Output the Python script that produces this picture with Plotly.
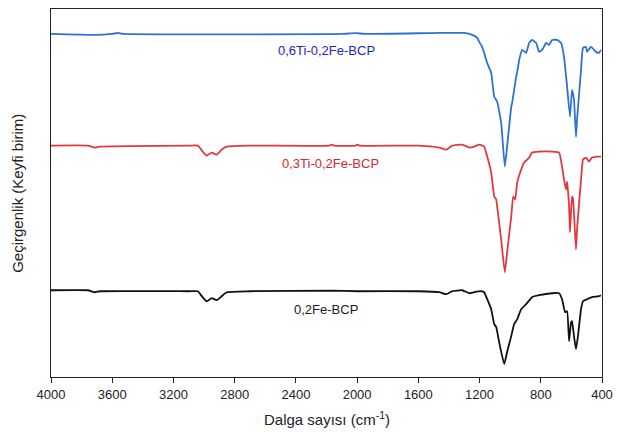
import plotly.graph_objects as go

# Wavenumbers (cm-1) and relative transmittance (arbitrary units)
wn_ti6 = [4000, 3713, 3600, 3563, 3530, 2100, 2010, 1950, 1463, 1300, 1248, 1215, 1202, 1183,
          1150, 1124, 1104, 1085, 1059, 1035, 1020, 993, 987, 961, 954, 941, 922, 896, 876,
          857, 830, 811, 791, 765, 746, 726, 693, 667, 648, 628, 609, 596, 583, 570, 563,
          537, 524, 504, 498, 472, 439, 420, 407]
t_ti6 = [344, 343, 344, 345, 344, 344, 344.8, 344, 345, 345, 343, 340, 336, 331,
         315, 305, 281, 276, 255, 211, 231, 271, 275, 301, 306, 318, 328, 325, 335,
         338, 335, 326, 328, 335, 333, 338, 338, 335, 321, 291, 261, 288, 278, 241, 258,
         308, 330, 331, 326, 331, 326, 325, 328]

wn_ti3 = [4000, 3760, 3713, 3680, 3100, 3041, 3009, 2983, 2950, 2917, 2885, 2852, 2700,
          2180, 2167, 2150, 2010, 1998, 1985, 1600, 1463, 1417, 1378, 1313, 1267, 1235,
          1202, 1170, 1150, 1124, 1104, 1091, 1085, 1059, 1035, 1020, 993, 980, 967, 954,
          928, 909, 876, 857, 811, 726, 680, 661, 648, 635, 628, 615, 609, 596, 589, 570,
          563, 537, 524, 504, 485, 465, 433, 407]
t_ti3 = [232, 232, 230, 231, 232, 232, 226, 222, 225, 223, 228, 231, 232,
         232, 233, 232, 232, 233, 232, 232, 230, 228, 232, 233, 230, 231,
         233, 231, 221, 205, 181, 178, 171, 138, 105, 125, 161, 181, 178, 195,
         208, 215, 220, 225, 226, 226, 225, 211, 198, 188, 196, 171, 145, 181, 178, 128,
         148, 198, 218, 220, 216, 220, 221, 221]

wn_fe = [4000, 3760, 3713, 3680, 3100, 3041, 3009, 2983, 2950, 2917, 2885, 2852, 2700,
         2167, 1998, 1600, 1463, 1417, 1378, 1313, 1267, 1235, 1189, 1170, 1150, 1124,
         1104, 1091, 1072, 1039, 1020, 993, 974, 954, 928, 896, 857, 811, 726, 680, 661,
         641, 628, 615, 602, 596, 583, 570, 557, 537, 524, 498, 465, 420, 407]
t_fe = [87, 87, 85, 86, 86, 86, 80, 76, 79, 77, 81, 85, 86,
        86.5, 86, 86, 85, 83, 86, 87, 84, 85, 86, 85, 78, 68,
        53, 50, 35, 13, 25, 41, 53, 58, 68, 73, 80, 82, 84, 84, 78,
        65, 66, 36, 55, 56, 41, 28, 41, 68, 76, 78, 80, 81, 82]

series_names = ["0,6Ti-0,2Fe-BCP", "0,3Ti-0,2Fe-BCP", "0,2Fe-BCP"]
label_wn = [2197, 2177, 2203]
label_t = [327, 214, 68]

x_ticks = [4000, 3600, 3200, 2800, 2400, 2000, 1600, 1200, 800, 400]

line_colors = ["#2f72d6", "#e0393f", "#111111"]
label_colors = ["#2323c8", "#d9262f", "#1a1a1a"]

FONT = "Liberation Sans, Arial, sans-serif"

fig = go.Figure()
for wn, t, c, n in [(wn_ti6, t_ti6, line_colors[0], series_names[0]),
                    (wn_ti3, t_ti3, line_colors[1], series_names[1]),
                    (wn_fe, t_fe, line_colors[2], series_names[2])]:
    fig.add_trace(go.Scatter(x=wn, y=t, mode="lines", name=n,
                             line=dict(color=c, width=1.8, shape="spline", smoothing=0.4)))

for n, x, y, c in zip(series_names, label_wn, label_t, label_colors):
    fig.add_annotation(x=x, y=y, text=n, showarrow=False,
                       font=dict(family=FONT, size=13, color=c))

# axis titles
fig.add_annotation(x=0.5, y=-0.112, xref="paper", yref="paper", xanchor="center", yanchor="middle",
                   text="Dalga sayısı (cm<sup>-1</sup>)", showarrow=False,
                   font=dict(family=FONT, size=15, color="#222"))
fig.add_annotation(x=-0.062, y=0.5, xref="paper", yref="paper", xanchor="center", yanchor="middle",
                   text="Geçirgenlik (Keyfi birim)", showarrow=False, textangle=-90,
                   font=dict(family=FONT, size=15, color="#222"))

# the page body keeps an 8px margin, so the figure is sized to end at the window edge
fig.update_layout(
    width=614, height=424,
    margin=dict(l=43, r=20, t=1, b=55),
    plot_bgcolor="white", paper_bgcolor="white",
    showlegend=False,
    font=dict(family=FONT, color="#222"),
    xaxis=dict(range=[4000, 400], tickvals=x_ticks, ticktext=[str(v) for v in x_ticks],
               showgrid=False, zeroline=False, showline=True, linecolor="#222", linewidth=1.2,
               mirror=True, ticks="outside", ticklen=5, tickcolor="#222", automargin=False,
               tickfont=dict(size=13, color="#222")),
    yaxis=dict(range=[0, 369], showgrid=False, zeroline=False, showline=True,
               linecolor="#222", linewidth=1.2, mirror=True, showticklabels=False, ticks="",
               automargin=False),
)

fig.write_html("out.html")
